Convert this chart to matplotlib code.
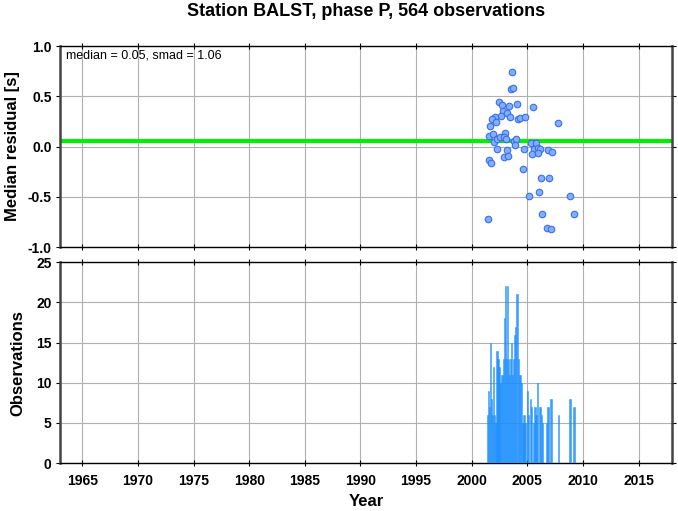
import matplotlib
matplotlib.use("Agg")
import matplotlib.pyplot as plt
import numpy as np

plt.rcParams['font.family'] = ['Liberation Sans', 'DejaVu Sans']

title = "Station BALST, phase P, 564 observations"
median_val = 0.05
smad_val = 1.06

# Median residuals per event (year, residual [s])
res_years = [2003.60, 2003.54, 2003.72, 2002.46, 2002.73, 2003.39, 2004.05, 2005.50,
             2002.79, 2003.21, 2002.64, 2003.45, 2002.13, 2001.86, 2002.19, 2004.17,
             2004.35, 2004.83, 2007.75, 2001.68, 2001.59, 2001.95, 2002.97, 2002.04,
             2002.31, 2002.55, 2002.91, 2003.06, 2003.84, 2003.99, 2003.90, 2002.28,
             2003.15, 2004.71, 2005.32, 2005.80, 2005.56, 2005.92, 2006.16, 2005.41,
             2005.92, 2006.82, 2007.21, 2002.88, 2003.30, 2001.53, 2001.77, 2004.65,
             2006.25, 2006.91, 2006.07, 2005.17, 2008.86, 2006.34, 2009.22, 2001.44,
             2006.76, 2007.09]
res_values = [0.74, 0.57, 0.58, 0.44, 0.41, 0.40, 0.42, 0.39,
              0.35, 0.33, 0.30, 0.29, 0.29, 0.27, 0.24, 0.27,
              0.28, 0.29, 0.23, 0.20, 0.10, 0.12, 0.13, 0.04,
              0.07, 0.09, 0.09, 0.07, 0.05, 0.07, 0.01, -0.02,
              -0.03, -0.02, 0.03, 0.03, -0.02, -0.01, -0.02, -0.07,
              -0.06, -0.03, -0.05, -0.10, -0.09, -0.13, -0.16, -0.22,
              -0.31, -0.31, -0.45, -0.49, -0.49, -0.67, -0.67, -0.72,
              -0.81, -0.82]

# Observation counts
obs_years = [2001.41, 2001.53, 2001.62, 2001.71, 2001.80, 2001.89, 2001.98, 2002.07,
             2002.19, 2002.28, 2002.37, 2002.46, 2002.55, 2002.67, 2002.76, 2002.85,
             2002.94, 2003.03, 2003.12, 2003.21, 2003.30, 2003.39, 2003.48, 2003.57,
             2003.66, 2003.78, 2003.87, 2003.96, 2004.08, 2004.20, 2004.32, 2004.41,
             2004.50, 2004.62, 2004.71, 2004.80, 2005.04, 2005.13, 2005.31, 2005.40,
             2005.55, 2005.70, 2005.79, 2005.94, 2006.09, 2006.18, 2006.30, 2006.39,
             2006.72, 2006.81, 2006.90, 2007.14, 2007.77, 2008.82, 2009.18]
obs_counts = [6, 9, 7, 15, 8, 6, 12, 6,
              5, 14, 13, 12, 10, 11, 11, 13,
              18, 22, 13, 22, 13, 11, 13, 15,
              11, 13, 16, 17, 21, 13, 11, 11,
              10, 5, 6, 5, 9, 6, 8, 7,
              5, 7, 6, 10, 7, 7, 6, 5,
              5, 7, 7, 8, 6, 8, 7]

xticks = [1965, 1970, 1975, 1980, 1985, 1990, 1995, 2000, 2005, 2010, 2015]

fig = plt.figure(figsize=(6.78, 5.11), dpi=100)
ax1 = fig.add_axes([60/678, 1-247/511, 612/678, 201/511])
ax2 = fig.add_axes([60/678, 1-463/511, 612/678, 200.7/511])

for ax in (ax1, ax2):
    ax.set_xlim(1963, 2018)
    ax.set_xticks(xticks)
    ax.grid(True, color='#b0b0b0', lw=0.8)
    ax.set_axisbelow(True)
    ax.tick_params(axis='x', direction='inout', length=4, width=0.8, top=True,
                   labelsize=10, pad=6)
    ax.tick_params(axis='y', direction='out', length=3, width=0.8, right=True,
                   labelsize=10, pad=3)
    for s in ('left', 'right'):
        ax.spines[s].set_linewidth(1.8)
        ax.spines[s].set_color('#444444')
    for s in ('top', 'bottom'):
        ax.spines[s].set_linewidth(1.0)
        ax.spines[s].set_color('black')

ax1.set_ylim(-1.0, 1.0)
ax1.set_yticks([-1.0, -0.5, 0.0, 0.5, 1.0])
ax1.set_yticklabels(['-1.0', '-0.5', '0.0', '0.5', '1.0'], fontweight='bold')
ax1.set_xticklabels([])
ax1.axhline(median_val, color='#00ee00', lw=3.0, zorder=2)
ax1.scatter(res_years, res_values, s=22, facecolor='#80b0ff', edgecolor='#3d6cf0',
            linewidths=0.8, zorder=3)
ax1.text(0.010, 0.985, f"median = {median_val:.2f}, smad = {smad_val:.2f}",
         transform=ax1.transAxes, ha='left', va='top', fontsize=9)
ax1.set_ylabel("Median residual [s]", fontsize=12, fontweight='bold')
ax1.yaxis.set_label_coords(-0.066, 0.5)
fig.text(366/678, 1-11/511, title, ha='center', va='center', fontsize=13,
         fontweight='bold')

ax2.set_ylim(0, 25)
ax2.set_yticks([0, 5, 10, 15, 20, 25])
ax2.set_yticklabels(['0', '5', '10', '15', '20', '25'], fontweight='bold')
ax2.set_xticklabels([str(t) for t in xticks], fontweight='bold')
ax2.bar(obs_years, obs_counts, width=0.12, color='#1e90ff', alpha=0.85,
        edgecolor='#1e90ff', linewidth=0.4, zorder=3)
ax2.set_ylabel("Observations", fontsize=12, fontweight='bold')
ax2.yaxis.set_label_coords(-0.056, 0.5)
ax2.set_xlabel("Year", fontsize=12, fontweight='bold', labelpad=4)

fig.savefig("out.png", dpi=100)
